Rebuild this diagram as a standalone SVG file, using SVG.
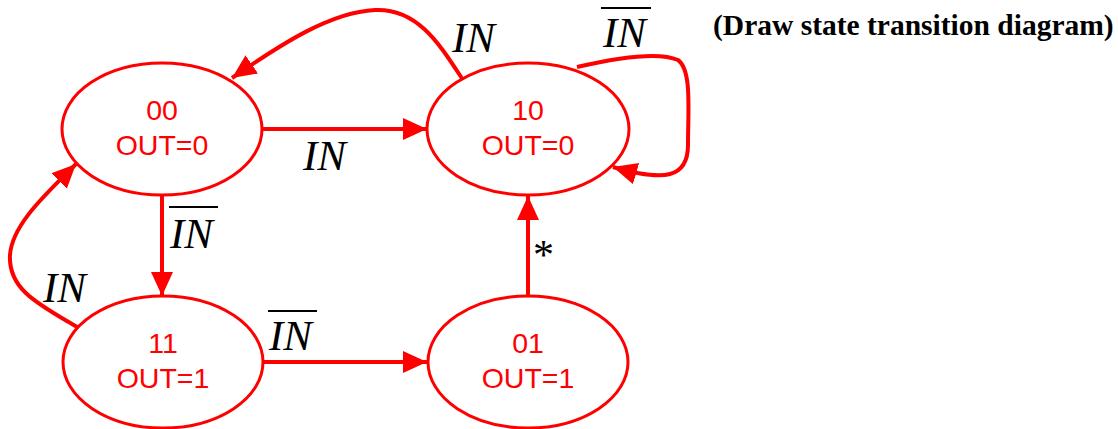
<svg xmlns="http://www.w3.org/2000/svg" width="1118" height="429" viewBox="0 0 1118 429">
<style>
.st{fill:#fff;stroke:#f00;stroke-width:3}
.sl{font-family:"Liberation Sans",Arial,sans-serif;font-size:28.5px;fill:#f00;text-anchor:middle}
.c{fill:none;stroke:#f00;stroke-width:4}
.lb{font-family:"Liberation Serif","Times New Roman",serif;font-style:italic;font-size:43px;fill:#000}
.ov{stroke:#000;stroke-width:2}
</style>
<defs>
<marker id="ah" markerUnits="userSpaceOnUse" markerWidth="26" markerHeight="24" refX="24" refY="11" orient="auto">
<path d="M0,0 L24,11 L0,22 z" fill="#f00"/>
</marker>
</defs>
<rect width="1118" height="429" fill="#fff"/>
<g id="connectors">
<line class="c" x1="262" y1="129" x2="427" y2="129" marker-end="url(#ah)"/>
<path class="c" d="M463,80 C440,45 418,8 375,10 C330,12 280,45 232,78" marker-end="url(#ah)"/>
<path class="c" d="M577,67 C620,57 660,52 678,60 C692,70 688,110 688,145 C688,178 665,182 613,167" marker-end="url(#ah)"/>
<line class="c" x1="162" y1="195" x2="162" y2="296" marker-end="url(#ah)"/>
<path class="c" d="M77,327 C40,305 8,290 10,255 C12,225 45,195 76,164" marker-end="url(#ah)"/>
<line class="c" x1="263" y1="362" x2="427" y2="362" marker-end="url(#ah)"/>
<line class="c" x1="528" y1="296" x2="528" y2="196" marker-end="url(#ah)"/>
</g>
<g id="labels">
<text class="lb" x="303" y="170">IN</text>
<text class="lb" x="452" y="52">IN</text>
<text class="lb" x="603" y="47">IN</text>
<line class="ov" x1="601" y1="8" x2="651" y2="8"/>
<text class="lb" x="170" y="248">IN</text>
<line class="ov" x1="169" y1="207" x2="218" y2="207"/>
<text class="lb" x="43" y="302">IN</text>
<text class="lb" x="269" y="350">IN</text>
<line class="ov" x1="268" y1="311" x2="317" y2="311"/>
<text x="533" y="269" font-family="'Liberation Serif','Times New Roman',serif" font-size="42" fill="#000">*</text>
</g>
<g id="s00"><ellipse class="st" cx="162" cy="129" rx="100" ry="66"/><text class="sl" x="162" y="120">00</text><text class="sl" x="162" y="155">OUT=0</text></g>
<g id="s10"><ellipse class="st" cx="528" cy="129" rx="101" ry="66"/><text class="sl" x="528" y="120">10</text><text class="sl" x="528" y="155">OUT=0</text></g>
<g id="s11"><ellipse class="st" cx="163" cy="362" rx="100" ry="66"/><text class="sl" x="163" y="353">11</text><text class="sl" x="163" y="388">OUT=1</text></g>
<g id="s01"><ellipse class="st" cx="528" cy="362" rx="100" ry="66"/><text class="sl" x="528" y="353">01</text><text class="sl" x="528" y="388">OUT=1</text></g>
<g id="title"><text x="713" y="35" font-family="'Liberation Serif','Times New Roman',serif" font-weight="bold" font-size="29.5" fill="#000">(Draw state transition diagram)</text></g>
</svg>
